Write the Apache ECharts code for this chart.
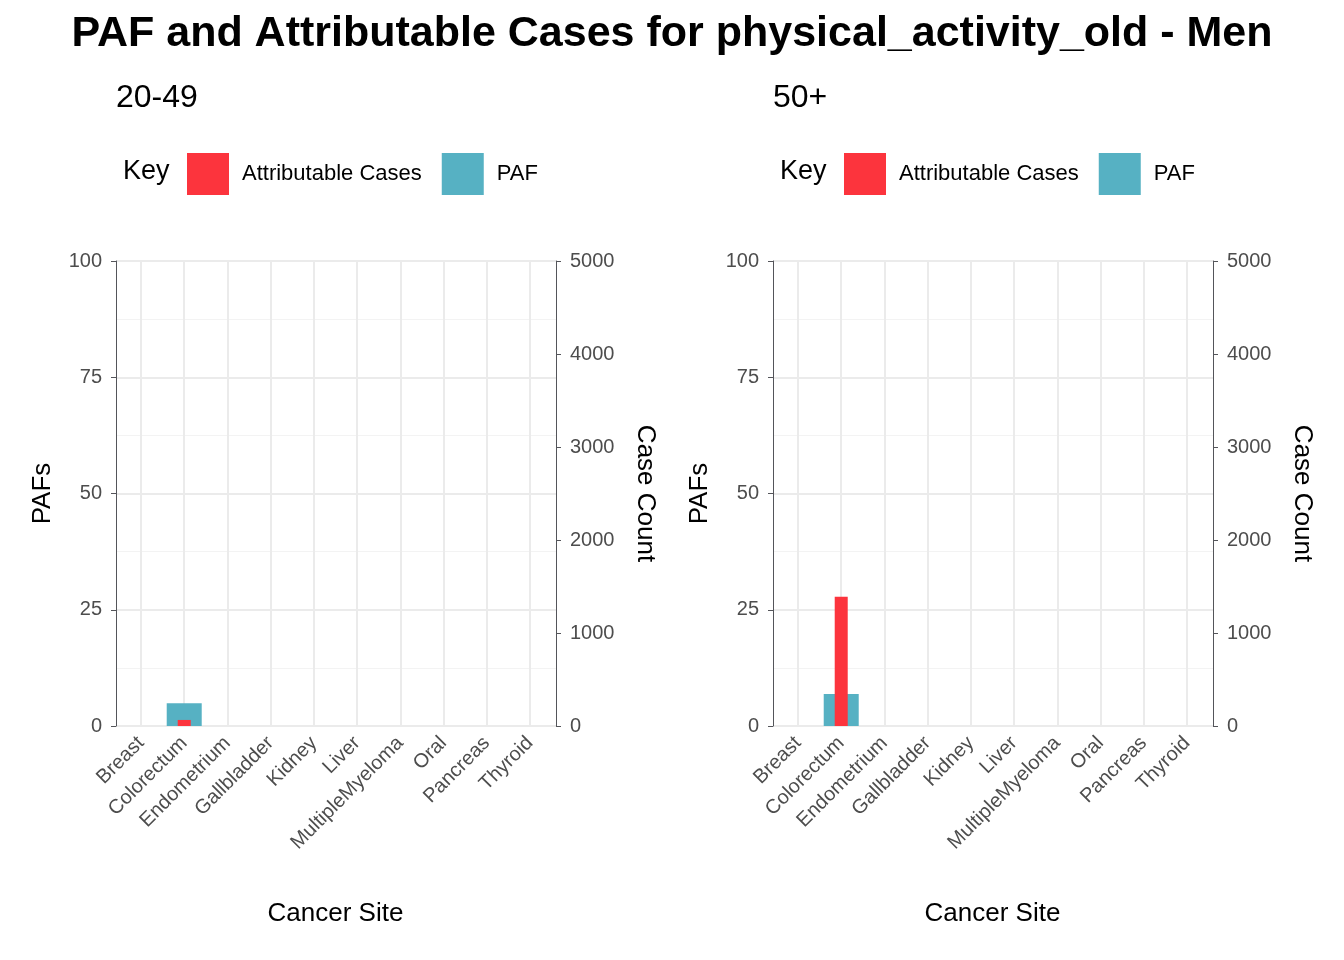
<!DOCTYPE html>
<html><head><meta charset="utf-8">
<script src="https://cdn.jsdelivr.net/npm/echarts@6/dist/echarts.min.js"></script>
<style>html,body{margin:0;background:#fff}#c{width:1344px;height:960px}</style>
</head><body><div id="c"></div>
<script>
const sites = ['Breast', 'Colorectum', 'Endometrium', 'Gallbladder', 'Kidney', 'Liver', 'MultipleMyeloma', 'Oral', 'Pancreas', 'Thyroid'];
const pafYoung = [0, 4.9, 0, 0, 0, 0, 0, 0, 0, 0];
const casesYoung = [0, 65, 0, 0, 0, 0, 0, 0, 0, 0];
const pafOld = [0, 6.9, 0, 0, 0, 0, 0, 0, 0, 0];
const casesOld = [0, 1390, 0, 0, 0, 0, 0, 0, 0, 0];
const panels = [
  { label: '20-49', left: 116, paf: pafYoung, cases: casesYoung },
  { label: '50+', left: 773, paf: pafOld, cases: casesOld }
];

const font = 'Liberation Sans, Arial, sans-serif';
const grid = [], xAxis = [], yAxis = [], series = [], graphic = [], legend = [];
const nameStyle = { fontSize: 26, color: '#000', fontFamily: font };
const tickStyle = { fontSize: 20, color: '#4d4d4d', fontFamily: font, margin: 14 };

panels.forEach((p, i) => {
  // outer grid: y axes and horizontal lines
  grid.push({ left: p.left, width: 440, top: 261, height: 465 });
  // inner grid: categories centred on vertical lines
  grid.push({ left: p.left + 25, width: 389, top: 261, height: 465 });
  const g0 = i * 2, g1 = i * 2 + 1;
  xAxis.push({ type: 'value', gridIndex: g0, show: false, min: 0, max: 1 });
  xAxis.push({
    type: 'category', data: sites, gridIndex: g1, boundaryGap: false,
    name: 'Cancer Site', nameLocation: 'middle', nameGap: 175, nameTextStyle: nameStyle,
    axisLine: { show: false }, axisTick: { show: false },
    axisLabel: Object.assign({ rotate: 45, interval: 0 }, tickStyle),
    splitLine: { show: true, lineStyle: { color: '#ebebeb', width: 2 } }
  });
  xAxis.push({ type: 'category', data: sites, gridIndex: g1, boundaryGap: false, show: false });
  yAxis.push({
    type: 'value', gridIndex: g0, min: 0, max: 100, interval: 25,
    name: 'PAFs', nameLocation: 'middle', nameGap: 60, nameTextStyle: nameStyle,
    axisLabel: tickStyle,
    splitLine: { lineStyle: { color: '#ebebeb', width: 2 } },
    minorTick: { show: false, splitNumber: 2 },
    minorSplitLine: { show: true, lineStyle: { color: '#f3f3f3', width: 1 } }
  });
  yAxis.push({
    type: 'value', gridIndex: g0, min: 0, max: 5000, interval: 1000, position: 'right',
    name: 'Case Count', nameLocation: 'middle', nameGap: 76, nameRotate: -90, nameTextStyle: nameStyle,
    axisLabel: Object.assign({ formatter: v => String(v) }, tickStyle),
    splitLine: { show: false }
  });
  yAxis.push({ type: 'value', gridIndex: g1, min: 0, max: 100, show: false });
  yAxis.push({ type: 'value', gridIndex: g1, min: 0, max: 5000, show: false });
  series.push({
    name: 'PAF', type: 'bar', xAxisIndex: i * 3 + 1, yAxisIndex: i * 4 + 2,
    data: p.paf, barWidth: 35, itemStyle: { color: '#56b1c3' }
  });
  series.push({
    name: 'Attributable Cases', type: 'bar', xAxisIndex: i * 3 + 2, yAxisIndex: i * 4 + 3,
    data: p.cases, barWidth: 13, itemStyle: { color: '#fc343d' }, z: 3
  });
  legend.push({
    left: p.left + 66, top: 148, itemWidth: 42, itemHeight: 42, itemGap: 20, icon: 'rect',
    data: ['Attributable Cases', 'PAF'],
    textStyle: { fontSize: 22, color: '#000', fontFamily: font, padding: [0, 0, 0, 8] }
  });
  graphic.push({ type: 'text', left: p.left, top: 82, style: { text: p.label, fontSize: 32, fill: '#000', fontFamily: font } });
  graphic.push({ type: 'text', left: p.left + 7, top: 158, style: { text: 'Key', fontSize: 27, fill: '#000', fontFamily: font } });
});

const chart = echarts.init(document.getElementById('c'));
chart.setOption({
  animation: false,
  title: { text: 'PAF and Attributable Cases for physical_activity_old - Men', left: 'center', top: 8,
    textStyle: { fontSize: 43, fontWeight: 'bold', color: '#000', fontFamily: font } },
  grid, xAxis, yAxis, series, legend, graphic
});
</script></body></html>
